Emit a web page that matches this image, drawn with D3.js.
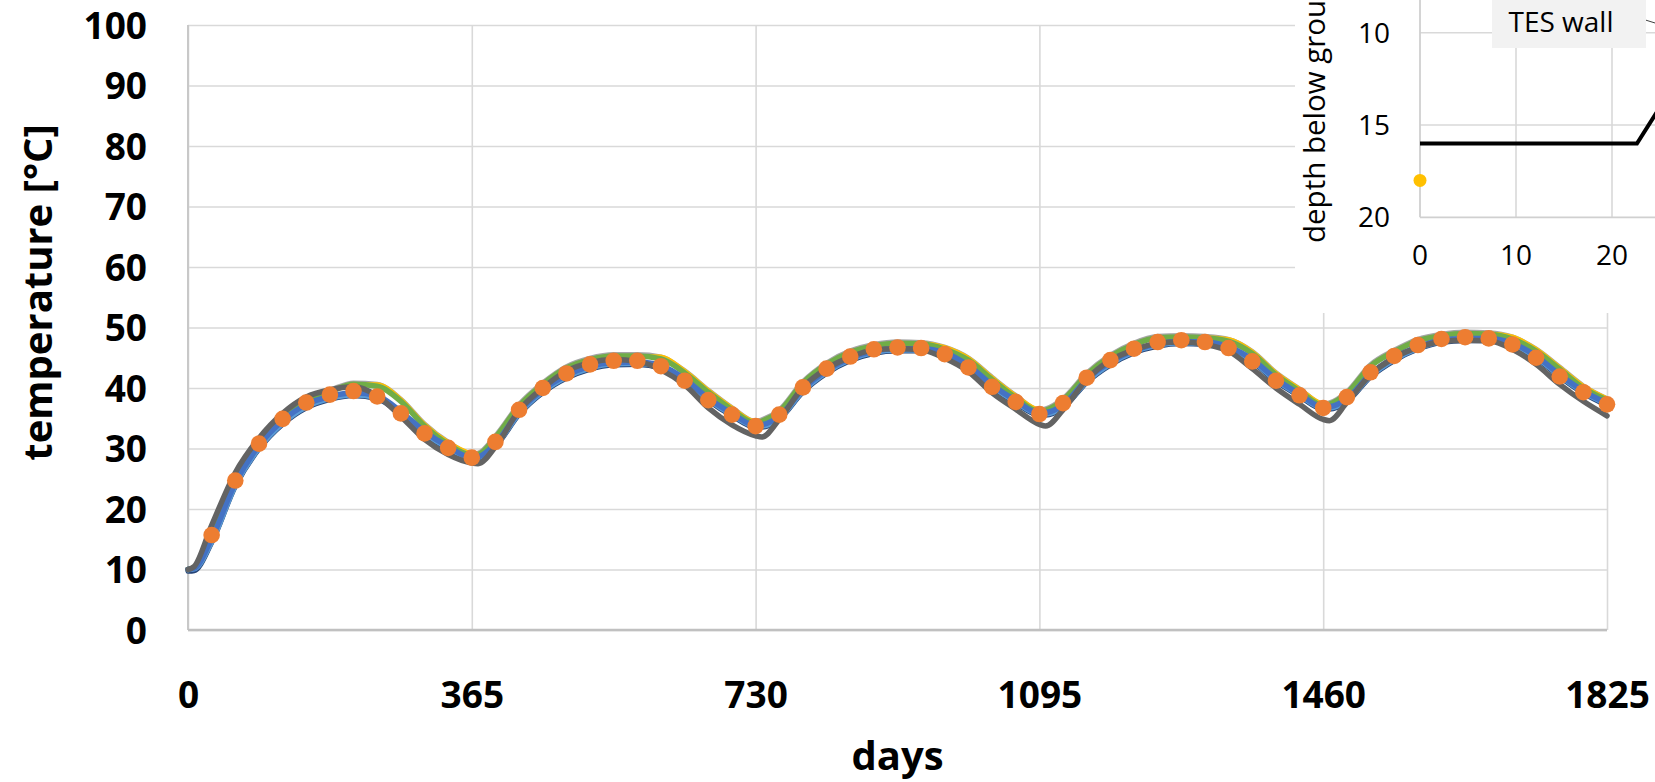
<!DOCTYPE html>
<html><head><meta charset="utf-8">
<script src="https://cdn.jsdelivr.net/npm/d3@7/dist/d3.min.js"></script>
<style>html,body{margin:0;padding:0;background:#fff;overflow:hidden}</style>
</head><body><div id="chart"></div>
<script>
// ---------- data ----------
const xTicks = [0, 365, 730, 1095, 1460, 1825];
const yTicks = [0, 10, 20, 30, 40, 50, 60, 70, 80, 90, 100];

const lineDays = [
  0, 8, 30.4, 60.8, 91.3, 121.7, 152.1, 182.5, 212.9, 243.3, 273.8, 304.2, 334.6, 365, 373,
  395.4, 425.8, 456.3, 486.7, 517.1, 547.5, 577.9, 608.3, 638.8, 669.2, 699.6, 730, 738,
  760.4, 790.8, 821.3, 851.7, 882.1, 912.5, 942.9, 973.3, 1003.8, 1034.2, 1064.6, 1095, 1103,
  1125.4, 1155.8, 1186.3, 1216.7, 1247.1, 1277.5, 1307.9, 1338.3, 1368.8, 1399.2, 1429.6, 1460, 1468,
  1490.4, 1520.8, 1551.3, 1581.7, 1612.1, 1642.5, 1672.9, 1703.3, 1733.8, 1764.2, 1794.6, 1825];

const darkGray = [
  10.0, 10.5, 17.3, 26.0, 31.7, 35.8, 38.5, 39.7, 40.2, 38.7, 35.3, 31.5, 29.0, 27.6, 27.5,
  30.3, 36.3, 40.0, 42.8, 44.2, 44.7, 44.4, 43.0, 40.5, 36.7, 33.9, 32.1, 31.9,
  34.8, 40.1, 43.2, 45.1, 46.3, 46.5, 46.3, 44.9, 42.7, 39.2, 36.5, 34.0, 33.7,
  36.4, 41.4, 44.6, 46.3, 47.4, 47.6, 47.2, 46.1, 43.2, 40.0, 37.3, 34.8, 34.6,
  37.6, 42.2, 45.0, 46.7, 47.7, 47.9, 47.8, 46.4, 43.9, 40.6, 37.8, 35.4];
const green = [
  10.0, 10.3, 16.8, 25.3, 31.3, 35.4, 38.0, 39.4, 40.6, 40.3, 37.8, 33.7, 30.7, 28.9, 29.0,
  31.8, 37.0, 40.6, 43.3, 44.7, 45.3, 45.3, 44.8, 42.5, 39.3, 36.4, 34.2, 34.5,
  36.1, 40.8, 43.9, 45.9, 46.95, 47.4, 47.3, 46.4, 44.6, 41.4, 38.4, 36.1, 36.3,
  38.0, 42.2, 45.2, 47.2, 48.3, 48.45, 48.3, 47.7, 45.7, 42.2, 39.5, 37.1, 37.3,
  39.1, 43.6, 46.0, 47.8, 48.65, 49.0, 48.9, 48.1, 46.1, 43.1, 40.0, 38.0];
const lightGray = [
  10.0, 10.3, 17.0, 25.5, 31.5, 35.6, 38.2, 39.6, 40.8, 40.6, 38.1, 34.0, 31.0, 29.1, 29.2,
  32.0, 37.2, 40.8, 43.5, 44.9, 45.5, 45.5, 45.1, 42.8, 39.6, 36.7, 34.4, 34.7,
  36.3, 41.0, 44.1, 46.1, 47.15, 47.6, 47.5, 46.7, 44.9, 41.7, 38.7, 36.3, 36.5,
  38.2, 42.4, 45.4, 47.4, 48.5, 48.65, 48.5, 48.0, 46.0, 42.5, 39.8, 37.3, 37.5,
  39.3, 43.8, 46.2, 48.0, 48.85, 49.2, 49.1, 48.4, 46.4, 43.4, 40.3, 38.2];
const yellow = [
  10.0, 10.3, 16.9, 25.4, 31.4, 35.5, 38.1, 39.5, 40.8, 40.8, 38.4, 34.3, 31.3, 29.4, 29.2,
  31.9, 37.1, 40.7, 43.4, 44.8, 45.4, 45.5, 45.4, 43.1, 39.9, 37.0, 34.7, 34.7,
  36.2, 40.9, 44.0, 46.0, 47.05, 47.5, 47.6, 47.0, 45.2, 42.0, 39.0, 36.6, 36.5,
  38.1, 42.3, 45.3, 47.3, 48.4, 48.6, 48.6, 48.3, 46.3, 42.8, 40.1, 37.6, 37.5,
  39.2, 43.7, 46.1, 47.9, 48.75, 49.1, 49.2, 48.7, 46.7, 43.7, 40.6, 38.5];
const blue = [
  10.0, 10.2, 15.1, 24.3, 30.5, 34.6, 37.3, 38.6, 39.2, 38.7, 36.1, 32.8, 30.3, 28.5, 28.6,
  30.8, 36.1, 39.7, 42.1, 43.6, 44.2, 44.3, 43.7, 41.5, 38.3, 35.8, 33.8, 33.9,
  35.3, 39.8, 42.9, 44.9, 46.1, 46.5, 46.5, 45.8, 43.7, 40.5, 37.9, 35.8, 35.9,
  37.2, 41.4, 44.3, 46.2, 47.3, 47.7, 47.6, 46.8, 44.7, 41.5, 39.0, 36.8, 36.9,
  38.2, 42.3, 45.0, 46.8, 47.9, 48.2, 48.2, 47.4, 45.3, 42.2, 39.5, 37.5];
const lightBlue = [
  10.0, 10.1, 14.6, 23.9, 30.1, 34.2, 36.9, 38.3, 38.9, 38.4, 35.8, 32.5, 30.1, 28.4, 28.5,
  30.5, 35.8, 39.4, 41.8, 43.3, 44.0, 44.1, 43.5, 41.3, 38.1, 35.6, 33.7, 33.7,
  35.0, 39.5, 42.6, 44.7, 45.9, 46.3, 46.3, 45.6, 43.5, 40.3, 37.7, 35.7, 35.7,
  36.9, 41.1, 44.0, 46.0, 47.1, 47.5, 47.4, 46.6, 44.5, 41.3, 38.8, 36.7, 36.7,
  37.9, 42.0, 44.7, 46.6, 47.7, 48.0, 48.0, 47.2, 45.1, 42.0, 39.3, 37.3];
const darkBlue = [
  9.7, 9.8, 14.4, 23.7, 29.9, 34.0, 36.7, 38.1, 38.7, 38.2, 35.6, 32.3, 29.9, 28.2, 28.3,
  30.3, 35.6, 39.2, 41.6, 43.1, 43.8, 43.9, 43.3, 41.1, 37.9, 35.4, 33.5, 33.5,
  34.8, 39.3, 42.4, 44.5, 45.7, 46.1, 46.1, 45.4, 43.3, 40.1, 37.5, 35.5, 35.5,
  36.7, 40.9, 43.8, 45.8, 46.9, 47.3, 47.2, 46.4, 44.3, 41.1, 38.6, 36.5, 36.5,
  37.7, 41.8, 44.5, 46.4, 47.5, 47.8, 47.8, 47.0, 44.9, 41.8, 39.1, 37.1];

const dotDays = [
  30.4, 60.8, 91.3, 121.7, 152.1, 182.5, 212.9, 243.3, 273.8, 304.2, 334.6, 365,
  395.4, 425.8, 456.3, 486.7, 517.1, 547.5, 577.9, 608.3, 638.8, 669.2, 699.6, 730,
  760.4, 790.8, 821.3, 851.7, 882.1, 912.5, 942.9, 973.3, 1003.8, 1034.2, 1064.6, 1095,
  1125.4, 1155.8, 1186.3, 1216.7, 1247.1, 1277.5, 1307.9, 1338.3, 1368.8, 1399.2, 1429.6, 1460,
  1490.4, 1520.8, 1551.3, 1581.7, 1612.1, 1642.5, 1672.9, 1703.3, 1733.8, 1764.2, 1794.6, 1825];
const dotTemps = [
  15.7, 24.7, 30.8, 34.9, 37.6, 38.9, 39.5, 38.6, 35.8, 32.5, 30.1, 28.5,
  31.1, 36.4, 40.0, 42.4, 43.9, 44.5, 44.5, 43.6, 41.2, 38.0, 35.6, 33.7,
  35.6, 40.1, 43.2, 45.2, 46.4, 46.7, 46.6, 45.6, 43.4, 40.2, 37.7, 35.7,
  37.5, 41.7, 44.6, 46.5, 47.6, 47.9, 47.6, 46.6, 44.4, 41.2, 38.8, 36.7,
  38.5, 42.6, 45.3, 47.1, 48.1, 48.4, 48.2, 47.2, 45.0, 41.9, 39.3, 37.3];

// inset data
const insetXTicks = [0, 10, 20];
const insetYTicks = [10, 15, 20];
const wallX = [0, 22.6, 26];
const wallDepth = [16, 16, 13.2];
const probeX = [0];
const probeDepth = [18];

// ---------- drawing ----------
const W = 1655, H = 782;
const svg = d3.select('#chart').append('svg').attr('width', W).attr('height', H)
  .style('display', 'block').style('font-family', "'Open Sans', sans-serif");
svg.append('rect').attr('width', W).attr('height', H).attr('fill', '#fff');

const x = d3.scaleLinear().domain([0, 1825]).range([188, 1607]);
const y = d3.scaleLinear().domain([0, 100]).range([630, 25]);
const gridColor = '#D9D9D9';

// y axis with gridlines
const gy = svg.append('g').attr('transform', `translate(${x(0)},0)`)
  .call(d3.axisLeft(y).tickValues(yTicks).tickFormat(d3.format('d'))
    .tickSize(-(x(1825) - x(0))).tickPadding(41));
gy.select('.domain').remove();
gy.selectAll('line').attr('stroke', gridColor).attr('stroke-width', 1.6);
gy.selectAll('text').attr('font-size', 37).attr('font-weight', 700).attr('fill', '#000')
  .attr('font-family', "'Open Sans', sans-serif").attr('dy', '0.36em');

// x axis with gridlines
const gx = svg.append('g').attr('transform', `translate(0,${y(0)})`)
  .call(d3.axisBottom(x).tickValues(xTicks).tickFormat(d3.format('d'))
    .tickSize(-(y(0) - y(100))));
gx.select('.domain').remove();
gx.selectAll('line').attr('stroke', gridColor).attr('stroke-width', 1.6);
gx.selectAll('text').attr('font-size', 37).attr('font-weight', 700).attr('fill', '#000')
  .attr('font-family', "'Open Sans', sans-serif").attr('y', 78).attr('dy', 0);

// axis lines
svg.append('line').attr('x1', x(0)).attr('x2', x(0)).attr('y1', y(100)).attr('y2', y(0))
  .attr('stroke', '#C8C8C8').attr('stroke-width', 2);
svg.append('line').attr('x1', x(0)).attr('x2', x(1825)).attr('y1', y(0)).attr('y2', y(0))
  .attr('stroke', '#C0C0C0').attr('stroke-width', 2.5);

// axis titles
svg.append('text').attr('transform', `translate(52,${(y(0) + y(100)) / 2 - 35}) rotate(-90)`)
  .attr('text-anchor', 'middle').attr('font-size', 40).attr('font-weight', 700)
  .text('temperature [°C]');
svg.append('text').attr('x', (x(0) + x(1825)) / 2).attr('y', 770)
  .attr('text-anchor', 'middle').attr('font-size', 40).attr('font-weight', 700).text('days');

// lines
const series = [
  {vals: darkBlue, color: '#264478', w: 5},
  {vals: lightGray, color: '#A5A5A5', w: 5.5},
  {vals: yellow, color: '#FFC000', w: 1.6},
  {vals: green, color: '#70AD47', w: 5.5},
  {vals: lightBlue, color: '#5B9BD5', w: 5.5},
  {vals: blue, color: '#4472C4', w: 5.5},
  {vals: darkGray, color: '#636363', w: 5.5}
];
const line = d3.line().x(d => x(d[0])).y(d => y(d[1])).curve(d3.curveMonotoneX);
series.forEach(s => {
  svg.append('path').datum(lineDays.map((d, i) => [d, s.vals[i]]))
    .attr('d', line).attr('fill', 'none').attr('stroke', s.color)
    .attr('stroke-width', s.w).attr('stroke-linejoin', 'round').attr('stroke-linecap', 'round');
});

// orange markers
svg.append('g').selectAll('circle').data(dotDays.map((d, i) => [d, dotTemps[i]])).join('circle')
  .attr('cx', d => x(d[0])).attr('cy', d => y(d[1])).attr('r', 8.3).attr('fill', '#ED7D31');

// ---------- inset ----------
const inset = svg.append('g');
inset.append('rect').attr('x', 1295).attr('y', 0).attr('width', W - 1295).attr('height', 313).attr('fill', '#fff');
const ix = d3.scaleLinear().domain([0, 10]).range([1420, 1516]);
const iy = d3.scaleLinear().domain([10, 20]).range([32.7, 217.3]);

[10, 15].forEach(v => inset.append('line').attr('x1', ix(0)).attr('x2', W).attr('y1', iy(v)).attr('y2', iy(v))
  .attr('stroke', gridColor).attr('stroke-width', 1.6));
[10, 20].forEach(v => inset.append('line').attr('x1', ix(v)).attr('x2', ix(v)).attr('y1', 0).attr('y2', iy(20))
  .attr('stroke', gridColor).attr('stroke-width', 1.6));
inset.append('line').attr('x1', ix(0)).attr('x2', ix(0)).attr('y1', 0).attr('y2', iy(20))
  .attr('stroke', '#D0D0D0').attr('stroke-width', 1.8);
inset.append('line').attr('x1', ix(0)).attr('x2', W).attr('y1', iy(20)).attr('y2', iy(20))
  .attr('stroke', '#D0D0D0').attr('stroke-width', 1.8);

inset.selectAll('.iyt').data(insetYTicks).join('text').attr('class', 'iyt')
  .attr('x', 1390).attr('y', d => iy(d)).attr('dy', '0.36em').attr('text-anchor', 'end')
  .attr('font-size', 28).attr('fill', '#000').text(d => d);
inset.selectAll('.ixt').data(insetXTicks).join('text').attr('class', 'ixt')
  .attr('x', d => ix(d)).attr('y', 265).attr('text-anchor', 'middle')
  .attr('font-size', 28).attr('fill', '#000').text(d => d);
inset.append('text').attr('transform', 'translate(1325,243) rotate(-90)')
  .attr('text-anchor', 'start').attr('font-size', 29.5).attr('fill', '#000').text('depth below ground [m]');

inset.append('path').datum(wallX.map((d, i) => [d, wallDepth[i]]))
  .attr('d', d3.line().x(d => ix(d[0])).y(d => iy(d[1])))
  .attr('fill', 'none').attr('stroke', '#000').attr('stroke-width', 4);
inset.selectAll('.probe').data(probeX.map((d, i) => [d, probeDepth[i]])).join('circle').attr('class', 'probe')
  .attr('cx', d => ix(d[0])).attr('cy', d => iy(d[1])).attr('r', 6.5).attr('fill', '#FFC000');

inset.append('line').attr('x1', 1639).attr('y1', 18).attr('x2', 1700).attr('y2', 37)
  .attr('stroke', '#404040').attr('stroke-width', 1);
inset.append('rect').attr('x', 1492).attr('y', -2).attr('width', 154).attr('height', 50).attr('fill', '#F2F2F2');
inset.append('text').attr('x', 1561).attr('y', 31.5).attr('text-anchor', 'middle')
  .attr('font-size', 28).attr('fill', '#000').text('TES wall');
</script>
</body></html>
